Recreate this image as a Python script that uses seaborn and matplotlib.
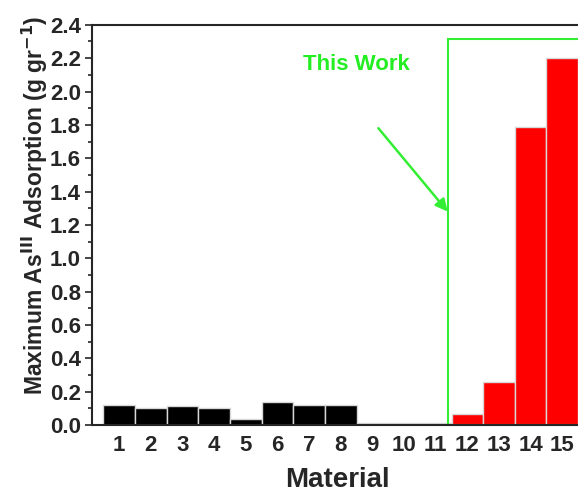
# ── IMPORTS ──────────────────────────────────────────────────
import numpy as np
import pandas as pd
import matplotlib
matplotlib.use("Agg")
import matplotlib.pyplot as plt
from matplotlib.patches import Rectangle
from matplotlib.ticker import MultipleLocator, FormatStrFormatter
import seaborn as sns

# ── DATA ─────────────────────────────────────────────────────
materials = [str(i) for i in range(1, 16)]
adsorption = [0.12, 0.105, 0.115, 0.10, 0.035, 0.14, 0.12, 0.12,
              0.01, 0.01, 0.01, 0.065, 0.26, 1.79, 2.20]
group = ["Other"] * 11 + ["This Work"] * 4

df = pd.DataFrame({"Material": materials, "Adsorption": adsorption, "Group": group})

# ── STYLE ────────────────────────────────────────────────────
sns.set_style("ticks")
plt.rcParams["font.family"] = ["Liberation Sans", "DejaVu Sans"]
plt.rcParams["font.weight"] = "bold"
plt.rcParams["mathtext.default"] = "bf"

fig = plt.figure(figsize=(5.78, 4.96), dpi=100)
ax = fig.add_axes([0.159, 0.143, 0.85, 0.807])

sns.barplot(data=df, x="Material", y="Adsorption", hue="Group",
            palette={"Other": "black", "This Work": "#ff0000"},
            saturation=1, width=1.0, dodge=False, legend=False, ax=ax,
            edgecolor="#d8d8d8", linewidth=1.0)

# ── AXES ─────────────────────────────────────────────────────
ax.set_xlim(-0.86, 14.66)
ax.set_ylim(0, 2.4)
ax.yaxis.set_major_locator(MultipleLocator(0.2))
ax.yaxis.set_minor_locator(MultipleLocator(0.1))
ax.yaxis.set_major_formatter(FormatStrFormatter("%.1f"))
ax.tick_params(axis="y", which="major", length=5, width=1.2, labelsize=16, pad=3)
ax.tick_params(axis="y", which="minor", length=3, width=1.2)
ax.tick_params(axis="x", length=0, labelsize=16, pad=7)
for lab in ax.get_xticklabels() + ax.get_yticklabels():
    lab.set_fontweight("bold")

for s in ["left", "bottom", "top"]:
    ax.spines[s].set_linewidth(1.5)
    ax.spines[s].set_visible(True)
ax.spines["right"].set_visible(False)

ax.set_xlabel("Material", fontsize=20, fontweight="bold", labelpad=8)
ax.set_ylabel(r"Maximum As$^{III}$ Adsorption (g gr$^{-1}$)",
              fontsize=16.5, fontweight="bold")
ax.yaxis.set_label_coords(-0.085, 0.55)

# ── ANNOTATION ───────────────────────────────────────────────
ax.add_patch(Rectangle((10.38, 0), 4.22, 2.316, fill=False,
                       edgecolor="#33ee33", linewidth=1.5, clip_on=False))
ax.annotate("", xy=(10.38, 1.28), xytext=(8.19, 1.78),
            arrowprops=dict(arrowstyle="-|>", color="#33ee33", lw=1.8,
                            mutation_scale=18, shrinkA=0, shrinkB=0))
ax.text(7.49, 2.16, "This Work", color="#22ee22", fontsize=16,
        fontweight="bold", ha="center", va="center")

fig.savefig("out.png", dpi=100)
